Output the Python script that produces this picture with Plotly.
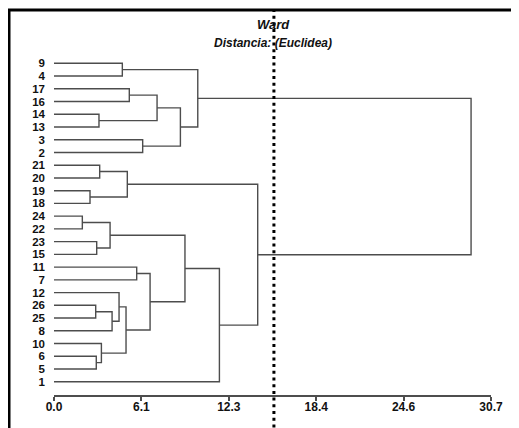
import plotly.graph_objects as go

# ---------------- data ----------------
leaf_labels = ["9", "4", "17", "16", "14", "13", "3", "2", "21", "20", "19", "18",
               "24", "22", "23", "15", "11", "7", "12", "26", "25", "8", "10", "6", "5", "1"]

# merges (agglomeration steps): node name, left child, right child, height (Euclidean, Ward)
merge_names  = ["c1", "c2", "c3", "c4", "c5", "c6", "c7", "c8", "c9", "c10", "c11", "c12", "c13",
                "c14", "c15", "c16", "c17", "c18", "c19", "c20", "c21", "c22", "c23", "c24", "c25"]
merge_left   = ["9", "17", "14", "c2", "3", "c4", "c1", "21", "19", "c8", "24", "23", "c11",
                "11", "26", "c15", "12", "6", "10", "c17", "c14", "c13", "c22", "c10", "c7"]
merge_right  = ["4", "16", "13", "c3", "2", "c5", "c6", "20", "18", "c9", "22", "15", "c12",
                "7", "25", "8", "c16", "5", "c18", "c19", "c20", "c21", "1", "c23", "c24"]
merge_height = [4.80, 5.29, 3.16, 7.24, 6.23, 8.88, 10.10, 3.21, 2.53, 5.15, 1.99, 3.00, 3.94,
                5.81, 2.93, 4.08, 4.57, 2.97, 3.33, 5.06, 6.75, 9.20, 11.62, 14.31, 29.30]

cut_level = 15.45

x_tick_vals = [0.0, 6.14, 12.28, 18.42, 24.56, 30.7]
x_tick_text = ["0.0", "6.1", "12.3", "18.4", "24.6", "30.7"]

title_text = "Ward"
subtitle_text = "Distancia: (Euclidea)"

# ---------------- build dendrogram segments ----------------
pos = {lab: i for i, lab in enumerate(leaf_labels)}
hgt = {lab: 0.0 for lab in leaf_labels}
xs, ys = [], []
for name, a, b, h in zip(merge_names, merge_left, merge_right, merge_height):
    ya, yb = pos[a], pos[b]
    xs += [hgt[a], h, h, hgt[b], None]
    ys += [ya, ya, yb, yb, None]
    pos[name] = (ya + yb) / 2.0
    hgt[name] = h

# page body has an 8px margin: figure sits at (8, 8) in the window
OFF = 8
W, H = 519 - OFF, 428 - OFF
ML, MR, MT, MB = 54 - OFF, 28, 50 - OFF, 33
PW, PH = W - ML - MR, H - MT - MB

def pxx(px):  # window pixel -> paper x
    return (px - OFF - ML) / PW

def pxy(py):  # window pixel -> paper y
    return (H - MB - (py - OFF)) / PH

fig = go.Figure()
fig.add_trace(go.Scatter(x=xs, y=ys, mode="lines",
                         line=dict(color="#4d4d4d", width=1.4),
                         hoverinfo="skip", showlegend=False, cliponaxis=False))

font_fam = "Liberation Sans, Arial, sans-serif"

fig.update_layout(
    width=W, height=H,
    margin=dict(l=ML, r=MR, t=MT, b=MB),
    paper_bgcolor="white", plot_bgcolor="white",
    showlegend=False,
    xaxis=dict(range=[0, 30.7], showgrid=False, zeroline=False,
               showline=True, linecolor="#4d4d4d", linewidth=1.5,
               ticks="outside", ticklen=4, tickwidth=1.5, tickcolor="#4d4d4d",
               tickvals=x_tick_vals, ticktext=x_tick_text, ticklabelstandoff=-4,
               tickfont=dict(family=font_fam, size=12, color="#111", weight="bold"),
               fixedrange=True),
    yaxis=dict(range=[26.04, -1.044], showgrid=False, zeroline=False, showline=False,
               tickvals=list(range(len(leaf_labels))), ticktext=leaf_labels,
               ticks="", ticklabelstandoff=8,
               tickfont=dict(family=font_fam, size=11.5, color="#111", weight="bold"),
               fixedrange=True),
    annotations=[
        dict(text=title_text, xref="paper", yref="paper", x=pxx(273), y=pxy(24),
             showarrow=False, xanchor="center", yanchor="middle",
             font=dict(family=font_fam, size=13, color="#111", weight="bold", style="italic")),
        dict(text=subtitle_text, xref="paper", yref="paper", x=pxx(273), y=pxy(43),
             showarrow=False, xanchor="center", yanchor="middle",
             font=dict(family=font_fam, size=12, color="#111", weight="bold", style="italic")),
    ],
    shapes=[
        # frame
        dict(type="line", xref="paper", yref="paper", x0=pxx(9), x1=pxx(9), y0=pxy(9), y1=pxy(430),
             line=dict(color="black", width=3)),
        dict(type="line", xref="paper", yref="paper", x0=pxx(8), x1=pxx(519), y0=pxy(10), y1=pxy(10),
             line=dict(color="black", width=3)),
        dict(type="line", xref="paper", yref="paper", x0=pxx(518), x1=pxx(518), y0=pxy(11), y1=pxy(430),
             line=dict(color="#dddddd", width=1)),
        # cut line
        dict(type="line", xref="x", yref="paper", x0=cut_level, x1=cut_level, y0=pxy(9), y1=pxy(430),
             line=dict(color="black", width=3, dash="3px,3.7px")),
    ],
)

fig.write_html("out.html")
